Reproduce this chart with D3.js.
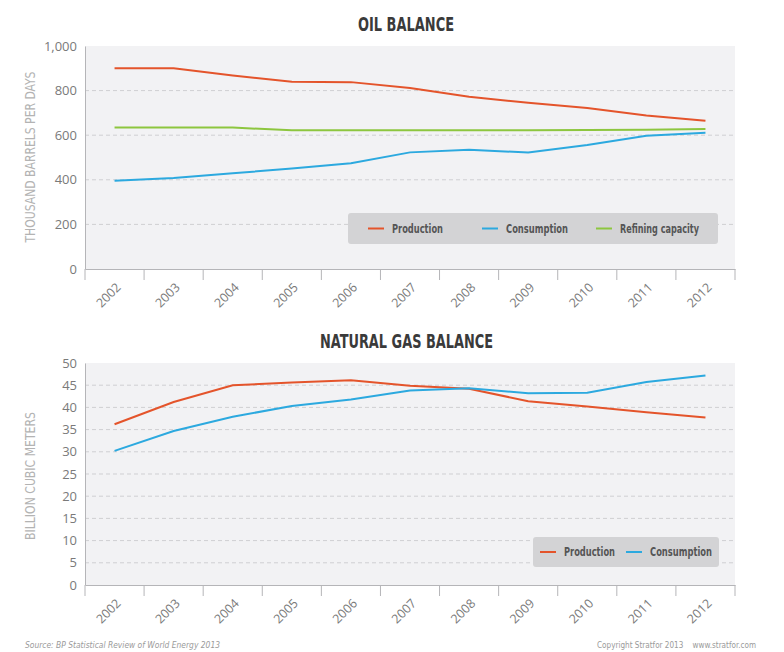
<!DOCTYPE html>
<html>
<head>
<meta charset="utf-8">
<script src="https://cdn.jsdelivr.net/npm/d3@7"></script>
<style>
  body { margin: 0; background: #fff; }
  svg { display: block; }
  .tick text { font-family: "Open Sans", sans-serif; }
  .cond { font-family: "DejaVu Sans Condensed", "DejaVu Sans", sans-serif; font-stretch: condensed; }
</style>
</head>
<body>
<svg id="chart" width="784" height="652"></svg>
<script>
// energy balance — two stacked line panels sharing the year axis
const years = ['2002', '2003', '2004', '2005', '2006', '2007', '2008', '2009', '2010', '2011', '2012'];

const oilProduction  = [900, 900, 868, 840, 838, 812, 772, 745, 722, 688, 665];
const oilConsumption = [396, 408, 429, 451, 474, 523, 535, 522, 556, 598, 611];
const oilRefining    = [634, 634, 634, 622, 622, 622, 622, 622, 623, 624, 628];
const oilTicks = [0, 200, 400, 600, 800, 1000];

const gasProduction  = [36.2, 41.2, 45.0, 45.6, 46.1, 44.9, 44.2, 41.4, 40.2, 38.9, 37.7];
const gasConsumption = [30.2, 34.7, 37.9, 40.3, 41.8, 43.8, 44.3, 43.2, 43.3, 45.7, 47.2];
const gasTicks = [0, 5, 10, 15, 20, 25, 30, 35, 40, 45, 50];

const COLORS = { prod: '#e4542b', cons: '#2ca9df', ref: '#8dc63f' };
const LEFT = 85, RIGHT = 735;

const svg = d3.select('#chart');

const x = d3.scaleBand().domain(years).range([LEFT, RIGHT]).padding(0);

// squeeze a text to the width it has in the original (no narrow font installed)
function fit(sel, w) {
    return sel.attr('textLength', w).attr('lengthAdjust', 'spacingAndGlyphs');
}

function drawPanel(cfg) {
    const g = svg.append('g');
    const y = d3.scaleLinear().domain([0, cfg.ticks[cfg.ticks.length - 1]]).range([cfg.bottom, cfg.top]);

    // title
    fit(svg.append('text')
        .attr('class', 'cond')
        .attr('x', cfg.titleX).attr('y', cfg.top - 15)
        .style('font-weight', 'bold')
        .style('font-size', '20px')
        .attr('fill', '#3a3a3a')
        .text(cfg.title), cfg.titleW);

    // plot background
    g.append('rect')
        .attr('x', LEFT).attr('y', cfg.top)
        .attr('width', RIGHT - LEFT).attr('height', cfg.bottom - cfg.top)
        .attr('fill', '#f2f2f4');

    // dashed gridlines (not at 0 or the max)
    g.append('g').selectAll('line')
        .data(cfg.ticks.slice(1, -1))
        .join('line')
        .attr('x1', LEFT).attr('x2', RIGHT)
        .attr('y1', d => y(d)).attr('y2', d => y(d))
        .attr('stroke', '#cfcfd2')
        .attr('stroke-dasharray', '4,3');

    // y axis
    const yAxis = g.append('g')
        .attr('transform', `translate(${LEFT},0)`)
        .call(d3.axisLeft(y).tickValues(cfg.ticks).tickSize(0).tickPadding(8).tickFormat(d3.format(',')));
    yAxis.select('.domain').attr('stroke', '#b5b5b8');
    yAxis.selectAll('text').attr('fill', '#7a7a7a').style('font-size', '13px');

    // x axis: labels at band centres, tick marks at band edges
    const xAxis = g.append('g')
        .attr('transform', `translate(0,${cfg.bottom})`)
        .call(d3.axisBottom(x).tickSize(0).tickSizeOuter(0));
    xAxis.select('.domain').attr('stroke', '#b5b5b8');
    xAxis.selectAll('text')
        .attr('fill', '#7a7a7a')
        .style('font-size', '12.5px')
        .attr('text-anchor', 'end')
        .attr('dy', '0.35em')
        .attr('y', 0)
        .attr('transform', 'translate(4,16) rotate(-45)');

    const edges = years.map(d => x(d)).concat([x(years[years.length - 1]) + x.bandwidth()]);
    g.append('g').selectAll('line')
        .data(edges)
        .join('line')
        .attr('x1', d => d).attr('x2', d => d)
        .attr('y1', cfg.bottom).attr('y2', cfg.bottom + 11)
        .attr('stroke', '#b5b5b8');

    // y axis title
    fit(svg.append('text')
        .attr('class', 'cond')
        .attr('transform', `translate(30,${cfg.yLabelY}) rotate(-90)`)
        .attr('text-anchor', 'middle')
        .attr('dy', '0.35em')
        .style('font-size', '14px')
        .attr('fill', '#b3b3b3')
        .text(cfg.yLabel), cfg.yLabelW);

    // series
    const line = d3.line()
        .x((d, i) => x(years[i]) + x.bandwidth() / 2)
        .y(d => y(d));

    cfg.series.forEach(s => {
        g.append('path')
            .datum(s.values)
            .attr('fill', 'none')
            .attr('stroke', s.color)
            .attr('stroke-width', 2)
            .attr('d', line);
    });

    // legend
    const lg = g.append('g').attr('transform', `translate(${cfg.legend.x},${cfg.legend.y})`);
    lg.append('rect')
        .attr('width', cfg.legend.w).attr('height', cfg.legend.h)
        .attr('rx', 3)
        .attr('fill', '#d3d3d5');
    cfg.series.forEach((s, i) => {
        const ox = cfg.legend.offsets[i];
        lg.append('line')
            .attr('x1', ox).attr('x2', ox + 16)
            .attr('y1', cfg.legend.h / 2).attr('y2', cfg.legend.h / 2)
            .attr('stroke', s.color).attr('stroke-width', 2);
        fit(lg.append('text')
            .attr('class', 'cond')
            .attr('x', ox + 24).attr('y', cfg.legend.h / 2)
            .attr('dy', '0.35em')
            .style('font-weight', 'bold')
            .style('font-size', '12px')
            .attr('fill', '#555')
            .text(s.name), cfg.legend.widths[i]);
    });
}

drawPanel({
    title: 'OIL BALANCE', titleX: 358, titleW: 96,
    yLabel: 'THOUSAND BARRELS PER DAYS', yLabelY: 157, yLabelW: 171,
    top: 46, bottom: 269,
    ticks: oilTicks,
    series: [
        { name: 'Production', values: oilProduction, color: COLORS.prod },
        { name: 'Consumption', values: oilConsumption, color: COLORS.cons },
        { name: 'Refining capacity', values: oilRefining, color: COLORS.ref }
    ],
    legend: { x: 348, y: 213, w: 370, h: 31, offsets: [20, 134, 248], widths: [51, 62, 79] }
});

drawPanel({
    title: 'NATURAL GAS BALANCE', titleX: 320, titleW: 173,
    yLabel: 'BILLION CUBIC METERS', yLabelY: 476, yLabelW: 128,
    top: 363, bottom: 585,
    ticks: gasTicks,
    series: [
        { name: 'Production', values: gasProduction, color: COLORS.prod },
        { name: 'Consumption', values: gasConsumption, color: COLORS.cons }
    ],
    legend: { x: 533, y: 537, w: 186, h: 30, offsets: [7, 93], widths: [51, 62] }
});

// footer
fit(svg.append('text')
    .attr('class', 'cond')
    .attr('x', 25).attr('y', 648)
    .style('font-style', 'italic')
    .style('font-size', '9.5px')
    .attr('fill', '#9a9a9a')
    .text('Source: BP Statistical Review of World Energy 2013'), 195);

fit(svg.append('text')
    .attr('class', 'cond')
    .attr('x', 597).attr('y', 648)
    .style('font-size', '9.5px')
    .attr('fill', '#9a9a9a')
    .text('Copyright Stratfor 2013\u00a0\u00a0\u00a0\u00a0www.stratfor.com'), 159);
</script>
</body>
</html>
